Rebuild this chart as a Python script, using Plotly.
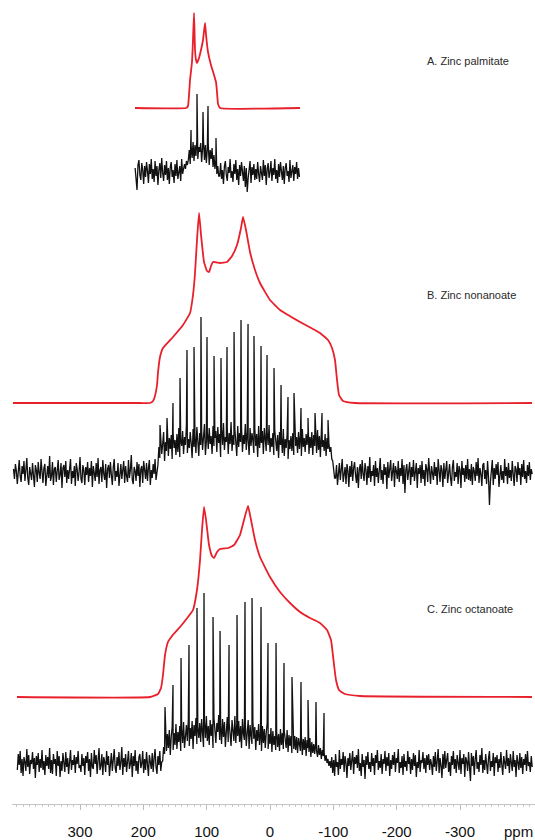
import plotly.graph_objects as go

# ---------------- axis ----------------
PPM_RANGE = [407.4, -418.4]
TICK_VALS = [300, 200, 100, 0, -100, -200, -300]
TICK_TEXT = ["300", "200", "100", "0", "-100", "-200", "-300"]

# ---------------- labels ----------------
LABELS = ["A. Zinc palmitate", "B. Zinc nonanoate", "C. Zinc octanoate"]
LABEL_PPM = -244.7
LABEL_Y = [743, 509, 195]

# ---------------- vertical offsets (a.u.) ----------------
OFF_A_SIM, OFF_A_EXP = 696, 632
OFF_B_SIM, OFF_B_EXP = 401, 331
OFF_C_SIM, OFF_C_EXP = 107, 41

# ---------------- simulated line shapes (red) ----------------
A_SIM_PPM = [213.2, 132.6, 129.5, 127.9, 126.3, 123.2, 121.6, 120.0, 118.4, 116.8,
             115.3, 112.1, 109.0, 105.8, 102.6, 101.0, 97.9, 93.2, 88.4, 85.3,
             83.7, 82.1, 78.9, -47.4]
A_SIM_INT = [0, 0, 2, 13, 28, 46, 68, 95, 58, 48,
             45, 50, 58, 68, 85, 73, 56, 43, 33, 26,
             16, 4, 0, 0]

B_SIM_PPM = [405.8, 205.3, 189.5, 184.7, 181.6, 178.4, 176.8, 173.7, 169.0, 153.2,
             137.4, 126.3, 121.6, 118.4, 115.3, 112.1, 108.9, 104.2, 99.5, 96.3,
             93.2, 90.0, 78.9, 67.9, 60.0, 52.1, 45.8, 42.6, 37.9, 31.6,
             23.7, 15.8, 0.0, -15.8, -47.4, -78.9, -91.6, -97.9, -102.6, -105.8,
             -108.9, -115.3, -134.2, -413.7]
B_SIM_INT = [0, 0, 0, 2, 7, 18, 31, 46, 55, 66,
             78, 90, 108, 130, 163, 190, 168, 141, 132, 131,
             137, 141, 140, 141, 147, 158, 175, 186, 173, 151,
             133, 120, 103, 93, 81, 70, 63, 55, 43, 23,
             8, 2, 0, 0]

C_SIM_PPM = [399.5, 189.5, 176.8, 172.1, 169.0, 165.8, 161.1, 154.7, 142.1, 129.5,
             121.6, 115.3, 110.5, 107.4, 104.2, 101.0, 96.3, 91.6, 88.4, 83.7,
             78.9, 66.3, 56.8, 47.4, 41.1, 34.7, 30.0, 23.7, 15.8, 0.0,
             -15.8, -31.6, -47.4, -63.2, -78.9, -90.0, -96.3, -101.1, -104.2, -108.9,
             -118.4, -142.1, -413.7]
C_SIM_INT = [0, 0, 3, 9, 22, 42, 55, 61, 70, 80,
             87, 107, 137, 167, 190, 177, 152, 141, 139, 145,
             148, 149, 152, 162, 177, 191, 177, 157, 140, 120,
             105, 94, 85, 79, 74, 67, 57, 32, 17, 7,
             3, 1, 0]

# ---------------- experimental spectra (black) ----------------
# sampled every 1.5 ppm starting at the given ppm (baseline | broad hump | baseline)
A_EXP_START = 213
B_EXP_START = 405
C_EXP_START = 399
EXP_STEP = -1.5

A_EXP_LEFT = [4, -9, -18, 7, 12, -3, -8, 9, 2, -12, 6, -5, 10, 1, -11, 8, -2, 13, -7, 3,
              -10, 11, -4, 6, -13, 2, 9, -6, 14, -1, -9, 7, -3, 11, -8, 4, -12, 5, 10, -5,
              2, -11, 8, -4, 12, -7, 1, 6, -9, 13, -2, 5, 8, 3, 11, 7]
A_EXP_HUMP = [12, 22, 8, 26, 14, 30, 11, 27, 16, 32, 13, 25, 20, 29, 10, 24, 31, 12, 27, 9,
              23, 28, 7, 22, 13, 24, 5, 17, 3, 12, -2, 6, -4]
A_EXP_RIGHT = [-4, 9, -7, 2, -12, 6, 11, -3, -9, 5, -1, 13, -6, 1, -10, 8, -2, 12, -8, 3,
               -13, 7, -4, 10, -1, -9, 6, -15, 4, -20, -6, 2, 11, -11, 5, -3, 8, -8, 3, -7,
               10, -2, -10, 6, 1, -8, 12, -4, 7, -13, 3, 9, -6, 0, 11, -9, 4, -3, 13, -7,
               2, -11, 8, -5, 10, -1, -8, 6, -12, 4, 9, -4, 1, -10, 12, -6, 3, 7, -9, 5,
               -2, 10, -7, 4, -5]

B_EXP_LEFT = [4, -6, 9, 2, -11, 5, 13, -3, -9, 7, -1, 12, -8, 3, 15, -5, -12, 6, 1, -7,
              10, -4, -14, 8, 3, -9, 11, 0, -6, 14, -2, -10, 5, 9, -13, 2, 7, -5, 17, -8,
              -3, 11, -12, 4, 6, -9, 1, 13, -7, -2, 10, -15, 5, 8, -4, 12, -10, 3, -6, 9,
              14, -11, 2, -5, 7, -13, 10, 4, -8, 1, 16, -6, -10, 8, 3, -12, 6, -2, 11, -9,
              5, -3, 12, -14, 7, 0, -8, 10, -4, 15, -11, 3, 6, -9, 13, -1, -7, 9, -15, 4,
              8, -5, 11, -2, -12, 6, 14, -8, 2, -4, 10, -13, 5, 9, -6, 1, 12, -10, 7, -3,
              -9, 13, -5, 3, 18, -7, -11, 6, 2, -8, 11, -3, 9, -14, 4, 7, -10, 12, -2, -6,
              10, -8, 5, 13, -12, 3, -5, 9, -1, 14, -7, 2]
B_EXP_HUMP = [8, 26, 15, 34, 19, 29, 41, 12, 31, 22, 44, 17, 35, 24, 38, 14, 40, 25, 33, 18,
              39, 21, 45, 16, 33, 27, 42, 19, 36, 28, 48, 20, 34, 25, 41, 30, 15, 44, 26, 37,
              20, 46, 32, 17, 40, 28, 43, 23, 35, 49, 18, 32, 41, 24, 45, 29, 37, 19, 47, 27,
              35, 42, 21, 46, 30, 39, 16, 44, 28, 50, 23, 36, 31, 45, 19, 40, 29, 51, 22, 38,
              28, 44, 34, 17, 47, 26, 40, 31, 46, 21, 38, 29, 49, 23, 42, 33, 18, 45, 27, 40,
              32, 20, 44, 27, 39, 16, 47, 25, 37, 30, 42, 19, 45, 33, 22, 41, 28, 48, 21, 35,
              26, 40, 18, 43, 30, 22, 38, 15, 41, 28, 36, 20, 44, 17, 34, 25, 39, 14, 33, 24,
              37, 22, 40, 18, 43, 27, 36, 20, 41, 24, 38, 17, 44, 26, 35, 21, 39, 28, 42, 19,
              36, 25, 41, 18, 38, 27, 34, 20, 43, 23, 37, 16, 40, 26, 33, 22, 39, 17, 35, 24,
              30, 21, 26, 14, 12, 2, -5]
B_EXP_RIGHT = [-5, 8, -12, 3, 10, -7, 1, 14, -9, -3, 6, -11, 9, 2, -14, 7, -4, 12, -8, 5,
               11, -2, -10, 6, -15, 4, 9, -6, 13, -1, -8, 10, 3, -12, 7, -5, 16, -9, 2, -3,
               8, -13, 12, -4, 5, -10, 1, 15, -7, 3, -11, 9, -2, 6, -16, 11, -5, 4, 13, -8,
               -1, 10, -14, 7, 2, -6, 12, -9, 5, -3, 14, -11, 8, -20, 3, 9, -7, 1, 11, -12,
               6, -4, 13, -8, 2, 10, -15, 5, -1, 8, -10, 12, -6, 3, -13, 9, 4, -9, 15, -5,
               -11, 7, 1, -7, 11, -3, 6, -12, 14, -2, -9, 8, 3, -14, 10, -6, 5, 12, -10, 2,
               9, -5, -13, 6, 13, -8, 1, -4, 10, -11, 7, 3, -15, 12, -2, 5, -9, 8, -6, 14,
               -7, 4, -8, 9, -12, 6, 2, -8, 11, -3, 15, -10, 5, -1, -13, 8, 10, -6, 3, -11,
               12, -4, -32, -9, 1, 13, -12, 5, -6, 9, -2, 11, -14, 4, 8, -7, 2, -10, 14, -3,
               6, -11, 10, -5, 3, -8, 12, -1, -13, 7, 4, -9, 11, -2, 5, -12, 9, -4, 13, -6,
               2, -10, 8, -3, 11, -7, 4, -1]

C_EXP_LEFT = [-7, 9, -2, 12, -10, 4, -13, 6, 1, -8, 14, -4, 8, -11, 3, -1, 11, -6, 5, -15,
              7, -2, 10, -9, 4, -5, 13, -7, 2, -12, 8, -3, 6, -6, 15, -10, 3, -11, 9, -1,
              4, -13, 12, -3, 7, -14, 2, -8, 10, 0, -9, 11, -4, 5, -11, 1, 13, -7, 3, -2,
              8, -10, 6, -1, 12, -5, -2, -9, 9, -3, 5, -12, 7, 0, 11, -8, 4, -14, 10, -4,
              -6, 13, -1, 8, -11, 3, 15, -7, -3, 9, -12, 6, 1, -9, 12, -2, 7, -13, 4, 10,
              -8, 2, 14, -5, -10, 6, -3, 11, -7, 1, 16, -12, 5, -4, 9, -9, 3, 12, -6, -1,
              10, -14, 7, -3, 13, -8, 2, -11, 6, 9, -5, -1, 12, -10, 4, -7, 11, -2, -13, 8,
              3, -6, 10, -9, 5, 14, -4, -11, 7, -2, 12, -8, 1]
C_EXP_HUMP = [2, 16, 9, 25, 12, 29, 15, 33, 8, 26, 36, 13, 30, 18, 39, 14, 31, 21, 37, 12,
              34, 20, 41, 15, 31, 38, 22, 43, 17, 35, 24, 42, 14, 38, 27, 45, 19, 36, 25, 40,
              21, 44, 30, 16, 41, 25, 47, 22, 37, 18, 43, 27, 39, 15, 45, 29, 20, 40, 31, 48,
              23, 38, 19, 44, 26, 41, 16, 37, 46, 21, 40, 28, 17, 43, 33, 22, 47, 20, 39, 27,
              42, 21, 37, 15, 44, 29, 23, 40, 17, 35, 43, 14, 38, 27, 19, 41, 24, 36, 13, 33,
              22, 39, 18, 31, 12, 37, 20, 34, 15, 30, 40, 14, 29, 19, 35, 11, 32, 18, 27, 13,
              31, 16, 29, 12, 34, 18, 30, 14, 32, 20, 15, 33, 11, 28, 17, 27, 10, 30, 14, 27,
              13, 26, 10, 25, 17, 12, 28, 8, 24, 13, 26, 7, 23, 15, 11, 25, 6, 21, 10, 19,
              9, 20, 12, 6, 18, 8, 15, 4, 13, 7, 10, 2, 8, 0, 4, -3, 2, -5]
C_EXP_RIGHT = [6, -10, 3, -13, 9, -4, 1, -12, 13, -6, 4, -2, 11, -9, 7, 0, -15, 5, -3, 10,
               -7, 2, 12, -11, 6, -1, 8, -5, 14, -8, 0, -13, 9, -4, 3, -16, 7, -2, 11, -6,
               1, -9, 10, -3, 5, -12, 8, 0, 13, -7, 2, -5, 9, -11, 4, -1, 12, -8, 6, -3,
               10, -13, 3, -6, 8, -2, 11, -9, 5, 0, 14, -10, 1, -5, 7, -12, 9, -4, 2, -8,
               12, -1, 6, -11, 4, -7, 10, -3, 8, -14, 1, -5, 13, -9, 3, 0, 11, -6, 5, -10,
               8, -2, 9, -7, 4, -1, -12, 7, -4, 11, -8, 2, 14, -10, 5, -3, -15, 9, -6, 12,
               -5, 3, 10, -9, 1, -13, 7, -2, 12, -6, 4, -10, 8, 0, -7, 13, -11, 5, -1, 9,
               -14, 6, 2, -8, 11, -4, -18, 10, -3, 7, -12, 4, 13, -6, 1, -9, 8, -2, 15, -10,
               3, -7, 9, -1, -11, 5, 12, -8, 2, -4, 10, -13, 6, 0, 8, -9, 4, -5, 11, -2,
               -12, 7, 1, -6, 13, -3, 5, -10, 9, -1, -8, 12, -4, 3, -14, 8, 2, -7, 10, -5,
               6, -11, 4, -2, 9, -8, 12, -3, 1, -9, 7, -4]

# spinning sidebands: position (ppm) and peak height (a.u. above baseline)
A_SB_PPM = [124.7, 115.3, 105.8, 97.9, 85.3]
A_SB_INT = [42, 78, 60, 66, 34]

B_SB_PPM = [173.7, 162.6, 153.2, 142.1, 131.1, 120.0, 109.0, 99.5, 88.4, 77.4,
            67.9, 56.8, 45.8, 34.7, 25.3, 14.2, 4.7, -6.3, -17.4, -28.4,
            -37.9, -48.9, -60.0, -71.1, -82.1, -91.6]
B_SB_INT = [48, 55, 70, 95, 123, 126, 156, 136, 117, 115,
            126, 141, 153, 149, 137, 127, 118, 105, 88, 76,
            80, 65, 55, 60, 60, 53]

C_SB_PPM = [165.8, 153.2, 140.5, 127.9, 115.3, 104.2, 90.0, 78.9, 64.7, 52.1,
            39.5, 28.4, 14.2, 3.2, -9.5, -22.1, -34.7, -48.9, -60.0, -72.6, -85.3]
C_SB_INT = [56, 78, 105, 118, 155, 170, 146, 132, 118, 148,
            161, 165, 156, 120, 120, 100, 86, 81, 63, 61, 50]

RED = "#e8202b"
BLACK = "#111111"
FONT = "Liberation Sans Narrow, Arial Narrow, sans-serif"


def experimental(start, values, sb_ppm, sb_int, offset):
    pts = [(start + EXP_STEP * i, v) for i, v in enumerate(values)]
    pts += list(zip(sb_ppm, sb_int))
    pts.sort(key=lambda p: -p[0])
    return [p[0] for p in pts], [p[1] + offset for p in pts]


fig = go.Figure()

for ppm, inten, off in [(A_SIM_PPM, A_SIM_INT, OFF_A_SIM),
                        (B_SIM_PPM, B_SIM_INT, OFF_B_SIM),
                        (C_SIM_PPM, C_SIM_INT, OFF_C_SIM)]:
    fig.add_trace(go.Scatter(x=ppm, y=[v + off for v in inten], mode="lines",
                             line=dict(color=RED, width=1.8, shape="spline", smoothing=0.35),
                             hoverinfo="skip", showlegend=False))

for start, vals, sbp, sbi, off in [
        (A_EXP_START, A_EXP_LEFT + A_EXP_HUMP + A_EXP_RIGHT, A_SB_PPM, A_SB_INT, OFF_A_EXP),
        (B_EXP_START, B_EXP_LEFT + B_EXP_HUMP + B_EXP_RIGHT, B_SB_PPM, B_SB_INT, OFF_B_EXP),
        (C_EXP_START, C_EXP_LEFT + C_EXP_HUMP + C_EXP_RIGHT, C_SB_PPM, C_SB_INT, OFF_C_EXP)]:
    xs, ys = experimental(start, vals, sbp, sbi, off)
    fig.add_trace(go.Scatter(x=xs, y=ys, mode="lines",
                             line=dict(color=BLACK, width=1.3),
                             hoverinfo="skip", showlegend=False))

for text, y in zip(LABELS, LABEL_Y):
    fig.add_annotation(x=LABEL_PPM, y=y, text=text, showarrow=False,
                       xanchor="left", yanchor="middle",
                       font=dict(family=FONT, size=11, color="#2a2a2a"))

fig.add_annotation(xref="paper", yref="paper", x=1.0, y=0, yshift=-27,
                   text="ppm", showarrow=False, xanchor="right", yanchor="middle",
                   font=dict(family=FONT, size=15, color="#111111"))

fig.update_layout(
    width=535, height=840,
    margin=dict(l=12, r=0, t=0, b=36),
    plot_bgcolor="white", paper_bgcolor="white",
    xaxis=dict(range=PPM_RANGE, tickmode="array", tickvals=TICK_VALS, ticktext=TICK_TEXT,
               showgrid=False, zeroline=False, showline=True, linecolor="#c4c4c4", linewidth=1,
               ticks="outside", ticklen=5, tickcolor="#bdbdbd", tickwidth=1,
               ticklabelstandoff=9,
               minor=dict(tickmode="linear", tick0=0, dtick=10, ticks="outside",
                          ticklen=2, tickcolor="#c8c8c8", showgrid=False),
               tickfont=dict(family=FONT, size=15, color="#111111")),
    yaxis=dict(range=[0, 804], visible=False, showgrid=False, zeroline=False),
)

fig.write_html("out.html", config={"displayModeBar": False},
               post_script="document.body.style.margin='0';document.body.style.overflow='hidden';")
